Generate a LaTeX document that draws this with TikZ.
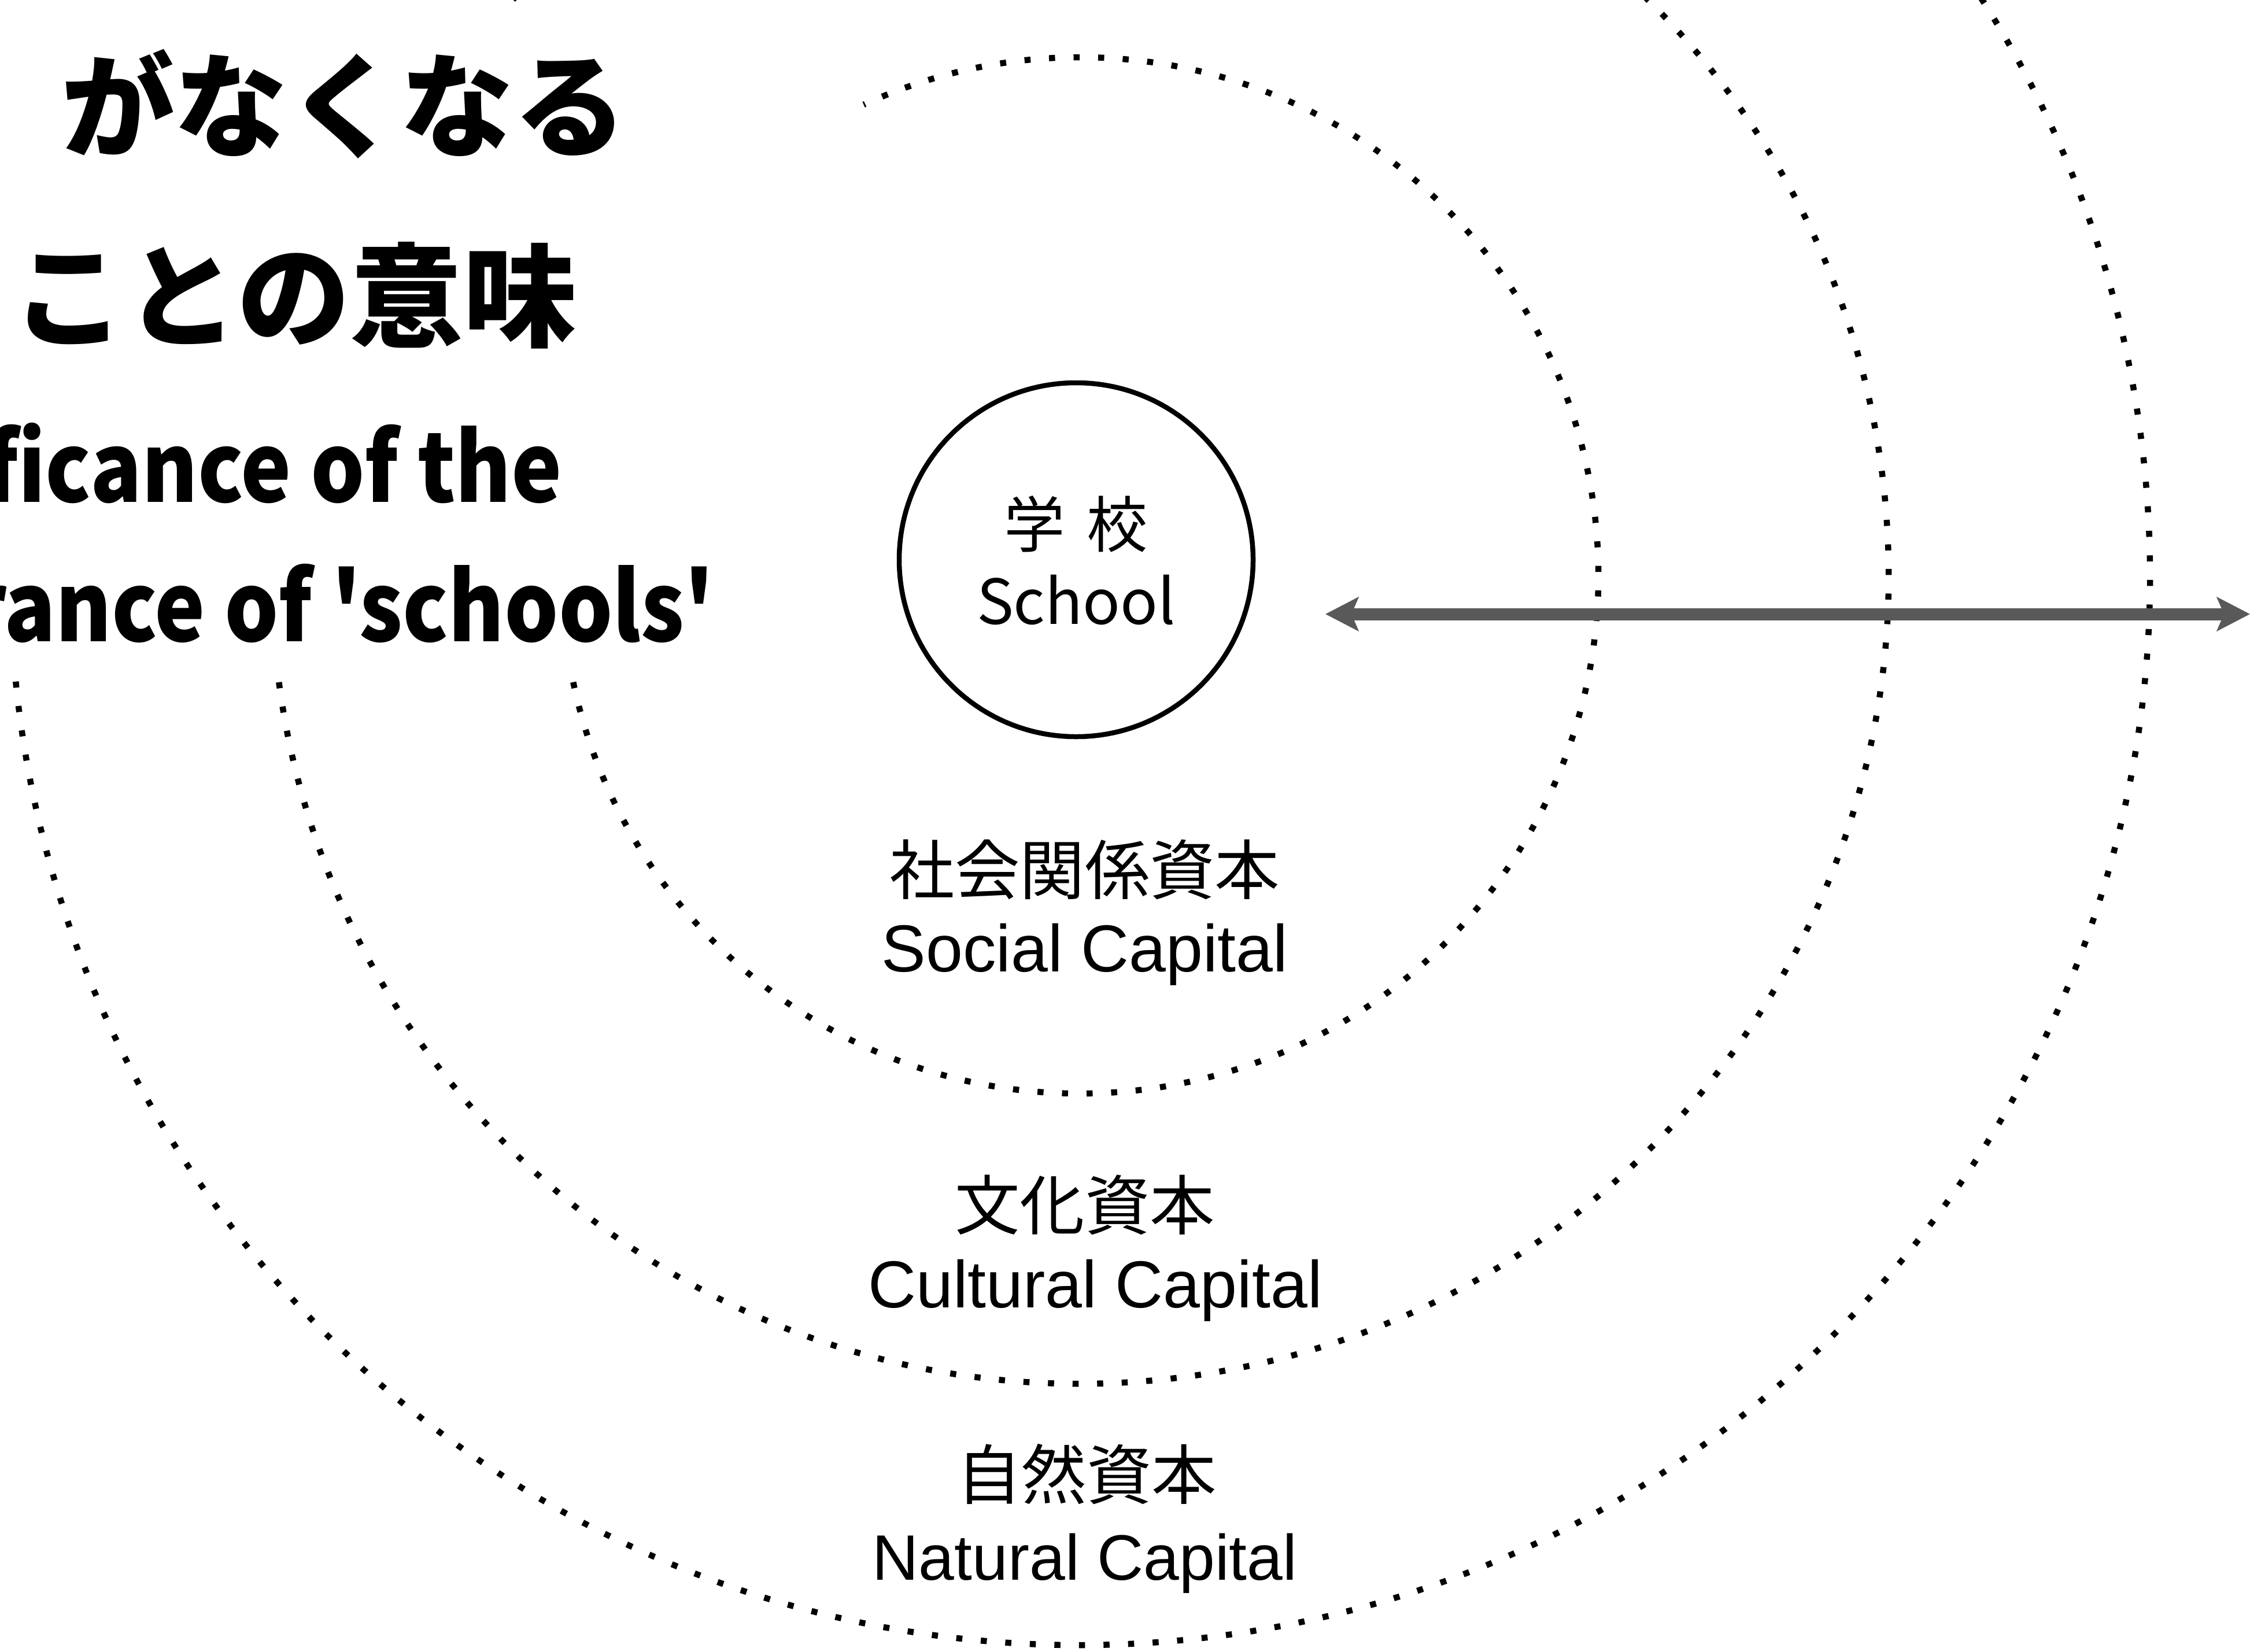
\documentclass[tikz,border=0pt]{standalone}
\usepackage{fontspec}
\usepackage{tikz}
\newfontfamily\jpfont{Noto Sans CJK JP}
\newfontfamily\jpnarrow{Noto Sans CJK JP}[FakeStretch=0.89]
\newfontfamily\enfont{Liberation Sans}
\definecolor{arrowgray}{RGB}{89,89,89}
\usetikzlibrary{arrows.meta}

\begin{document}
\begin{tikzpicture}[x=1mm, y=1mm]
        \tikzset{every node/.style={inner sep=0pt, outer sep=0pt},
                ring/.style={line width=1.05mm, dash pattern=on 1.05mm off 3.2mm},
                jplabel/.style={font=\jpfont\fontsize{32}{38}\selectfont},
                enlabel/.style={font=\enfont\fontsize{32.7}{38}\selectfont, anchor=base},
                titlejp/.style={font=\jpfont\bfseries\fontsize{55.6}{66}\selectfont},
                titleen/.style={font=\jpnarrow\bfseries\fontsize{47}{56}\selectfont, anchor=base east},
                >={Stealth[length=5.7mm, width=5.8mm, inset=1.2mm]}}

        \useasboundingbox (0,0) rectangle (389.1,-285.6);
        \coordinate (c) at (186.8,-99.5);

        % rings
        \draw[ring] (c) ++(-168.1:89.6mm) arc[start angle=-168.1, end angle=114.7, radius=89.6mm];
        \draw[ring] (c) ++(-172.4:139.8mm) arc[start angle=-172.4, end angle=135.5, radius=139.8mm];
        \draw[ring] (c) ++(-174.3:185mm) arc[start angle=-174.3, end angle=148, radius=185mm];

        \node[draw, circle, line width=0.85mm, minimum size=61.2mm] (school) at (186.1,-96.8) {};
        \node[font=\jpfont\fontsize{30}{36}\selectfont] (schooljp) at (186.1,-90.6) {学\hspace{3.8mm}校};
        \node[font=\jpfont\fontsize{30.5}{36}\selectfont, anchor=base] (schoolen) at (186.1,-107.9) {School};

        \node[jplabel] (socialjp) at (187.6,-150.4) {社会関係資本};
        \node[enlabel] (socialen) at (187.6,-168.0) {Social Capital};
        \node[jplabel] (culturaljp) at (187.6,-208.4) {文化資本};
        \node[enlabel] (culturalen) at (189.4,-226.1) {Cultural Capital};
        \node[jplabel] (naturaljp) at (187.9,-254.9) {自然資本};
        \node[enlabel, font=\enfont\fontsize{31.6}{38}\selectfont] (naturalen) at (187.6,-273.2) {Natural Capital};

        \node[titlejp] (titlea) at (59.5,-18.0) {がなくなる};
        \node[titlejp] (titleb) at (50.9,-51.1) {ことの意味};
        \node[titleen] (titlec) at (97.2,-86.8) {ficance of the};
        \node[titleen] (titled) at (123.5,-110.9) {rance of 'schools'};

        \coordinate (arrowl) at (229.2,-106.2);
        \coordinate (arrowr) at (389.1,-106.2);
        \draw[<->, line width=2.1mm, arrowgray] (arrowl) -- (arrowr);

    \end{tikzpicture}
\end{document}
